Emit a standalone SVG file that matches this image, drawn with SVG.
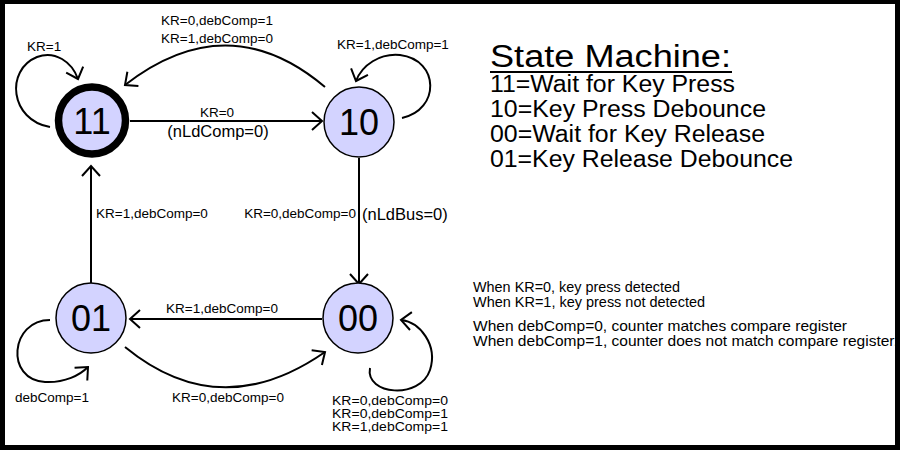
<svg xmlns="http://www.w3.org/2000/svg" width="900" height="450" viewBox="0 0 900 450">
<style>
.edge{fill:none;stroke:#000;stroke-width:2;marker-end:url(#arr)}
.loop{fill:none;stroke:#000;stroke-width:2;marker-end:url(#arr)}
.node{fill:#d3d3ff;stroke:#000;stroke-width:1.5}
.nt{font-family:"Liberation Sans",Arial,sans-serif;font-size:36px;text-anchor:middle;fill:#000}
.lb{font-family:"Liberation Sans",Arial,sans-serif;font-size:13.5px;fill:#000}
.lbs{font-family:"Liberation Sans",Arial,sans-serif;font-size:12.5px;fill:#000}
.lb16{font-family:"Liberation Sans",Arial,sans-serif;font-size:16.5px;fill:#000}
.note{font-family:"Liberation Sans",Arial,sans-serif;font-size:14.5px;fill:#000}
.leg{font-family:"Liberation Sans",Arial,sans-serif;font-size:23px;fill:#000}
.mid{text-anchor:middle}
.end{text-anchor:end}
</style>
<defs>
<marker id="arr" markerUnits="userSpaceOnUse" viewBox="-14 -12 16 24" markerWidth="16" markerHeight="24" refX="0" refY="0" orient="auto" overflow="visible">
<path d="M-10,-9 L0,0 L-10,9" fill="none" stroke="#000" stroke-width="2"/>
</marker>
</defs>
<rect x="0" y="0" width="900" height="450" fill="#000"/>
<rect x="5" y="4" width="890" height="441" fill="#fff"/>

<g id="connectors">
<path class="edge" d="M130,121 L322,121"/>
<path class="edge" d="M325,87 Q228,5 125,85"/>
<path class="loop" d="M50,127 C10,120 5,70 37,57 C55,50 72,62 78,79"/>
<path class="loop" d="M402,118 C440,110 440,60 400,55 C380,53 362,65 356,81"/>
<path class="edge" d="M359,158 L359,284"/>
<path class="edge" d="M91,283 L91,166"/>
<path class="edge" d="M322,319 L130,319"/>
<path class="edge" d="M125,347 Q220,425 325,352"/>
<path class="loop" d="M50,320 C10,320 5,380 45,382 C65,383 80,375 88,367"/>
<path class="loop" d="M370,368 C365,395 420,400 430,370 C438,345 420,322 401,320"/>
<text class="lb mid" x="217" y="117">KR=0</text>
<text class="lb16 mid" x="218" y="137">(nLdComp=0)</text>
<text class="lb mid" x="217" y="25">KR=0,debComp=1</text>
<text class="lb mid" x="217" y="43">KR=1,debComp=0</text>
<text class="lb" x="27" y="51">KR=1</text>
<text class="lb" x="337" y="49">KR=1,debComp=1</text>
<text class="lb" x="96" y="218">KR=1,debComp=0</text>
<text class="lb end" x="356" y="218">KR=0,debComp=0</text>
<text class="lb16" x="362" y="220">(nLdBus=0)</text>
<text class="lb mid" x="222" y="313">KR=1,debComp=0</text>
<text class="lb mid" x="228" y="402">KR=0,debComp=0</text>
<text class="lb" x="15" y="402">debComp=1</text>
<text class="lbs" x="332" y="405" textLength="116" lengthAdjust="spacingAndGlyphs">KR=0,debComp=0</text>
<text class="lbs" x="332" y="418" textLength="116" lengthAdjust="spacingAndGlyphs">KR=0,debComp=1</text>
<text class="lbs" x="332" y="431" textLength="116" lengthAdjust="spacingAndGlyphs">KR=1,debComp=1</text>
</g>

<g id="node-11">
<circle cx="92" cy="120.5" r="33.5" fill="#d3d3ff" stroke="#000" stroke-width="7.5"/>
<text class="nt" x="92" y="134">11</text>
</g>
<g id="node-10">
<circle class="node" cx="359" cy="122" r="35"/>
<text class="nt" x="359" y="135">10</text>
</g>
<g id="node-01">
<circle class="node" cx="91" cy="318" r="35"/>
<text class="nt" x="91" y="331">01</text>
</g>
<g id="node-00">
<circle class="node" cx="358" cy="318" r="35"/>
<text class="nt" x="358" y="331">00</text>
</g>

<g id="legend">
<text x="490" y="66.5" font-family="Liberation Sans, Arial, sans-serif" font-size="31" textLength="241" lengthAdjust="spacingAndGlyphs">State Machine:</text>
<rect x="490" y="71" width="242" height="2" fill="#000"/>
<text class="leg" x="490" y="92" textLength="245" lengthAdjust="spacingAndGlyphs">11=Wait for Key Press</text>
<text class="leg" x="490" y="117" textLength="276" lengthAdjust="spacingAndGlyphs">10=Key Press Debounce</text>
<text class="leg" x="490" y="142" textLength="275" lengthAdjust="spacingAndGlyphs">00=Wait for Key Release</text>
<text class="leg" x="490" y="167" textLength="303" lengthAdjust="spacingAndGlyphs">01=Key Release Debounce</text>
</g>

<g id="notes">
<text class="note" x="473" y="292" textLength="207" lengthAdjust="spacingAndGlyphs">When KR=0, key press detected</text>
<text class="note" x="473" y="307" textLength="232" lengthAdjust="spacingAndGlyphs">When KR=1, key press not detected</text>
<text class="note" x="473" y="331" textLength="374" lengthAdjust="spacingAndGlyphs">When debComp=0, counter matches compare register</text>
<text class="note" x="473" y="346" textLength="425" lengthAdjust="spacingAndGlyphs">When debComp=1, counter does not match compare register.</text>
</g>
</svg>
